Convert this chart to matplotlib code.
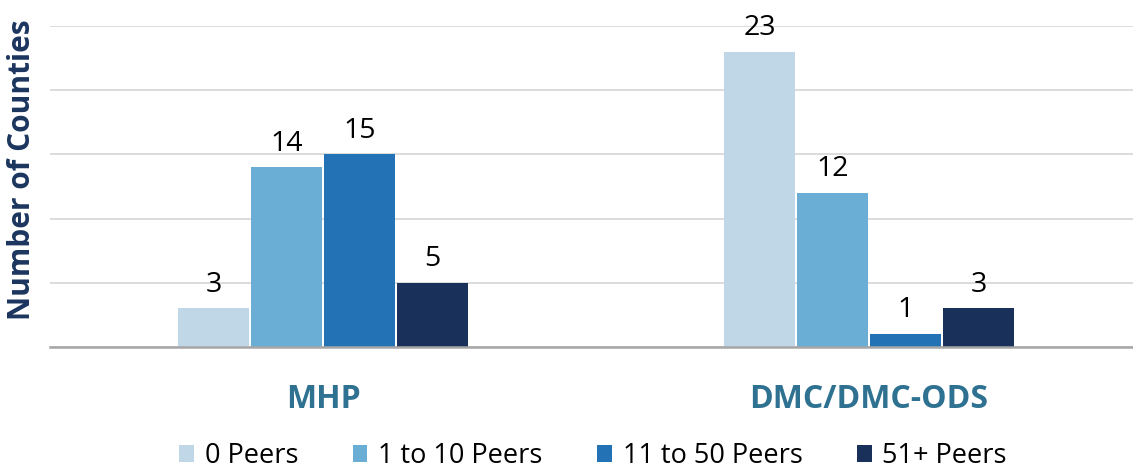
import matplotlib.pyplot as plt
import numpy as np

# data
groups = ["MHP", "DMC/DMC-ODS"]
series = ["0 Peers", "1 to 10 Peers", "11 to 50 Peers", "51+ Peers"]
values = {
    "0 Peers": [3, 23],
    "1 to 10 Peers": [14, 12],
    "11 to 50 Peers": [15, 1],
    "51+ Peers": [5, 3],
}
colors = ["#BFD7E7", "#6AAED6", "#2272B5", "#19305A"]

plt.rcParams["font.family"] = ["Open Sans", "DejaVu Sans"]

fig = plt.figure(figsize=(11.33, 4.70), dpi=100)
ax = fig.add_axes([50 / 1133, 1 - 347 / 470, 1 - 50 / 1133, (347 - 26) / 470])

x = np.arange(len(groups))
width = 0.130
step = 0.1337
for i, name in enumerate(series):
    pos = x + (i - 1.5) * step
    bars = ax.bar(pos, values[name], width, color=colors[i], label=name, zorder=3)
    for b, v in zip(bars, values[name]):
        ax.annotate(str(v), (b.get_x() + b.get_width() / 2, v),
                    xytext=(0, 7), textcoords="offset points",
                    ha="center", va="bottom", fontsize=20.5, color="black",
                    annotation_clip=False)

ax.set_ylim(0, 25)
ax.set_xlim(-0.5, 1.4835)
ax.set_yticks(np.arange(0, 26, 5))
ax.set_yticklabels([])
ax.tick_params(axis="y", length=0)
ax.yaxis.grid(True, color="#D9D9D9", linewidth=1.3, zorder=0)
ax.set_axisbelow(True)

ax.set_xticks(x)
ax.set_xticklabels(groups, fontsize=23, fontweight="bold", color="#2E7191")
ax.tick_params(axis="x", length=0, pad=26)

for s in ["top", "right", "left"]:
    ax.spines[s].set_visible(False)
ax.spines["bottom"].set_color("#A6A6A6")
ax.spines["bottom"].set_linewidth(1.8)
ax.spines["bottom"].set_zorder(4)

fig.text(22 / 1133, 1 - 170 / 470, "Number of Counties", rotation=90,
         ha="center", va="center", fontsize=21.5, fontweight="bold", color="#1B355E")

fig.legend(loc="center", bbox_to_anchor=(593 / 1133, 1 - 456 / 470), ncol=4,
           frameon=False, fontsize=19.5, handlelength=0.55, handleheight=0.55,
           handletextpad=0.4, columnspacing=2.0)

fig.savefig("out.png", dpi=100)
